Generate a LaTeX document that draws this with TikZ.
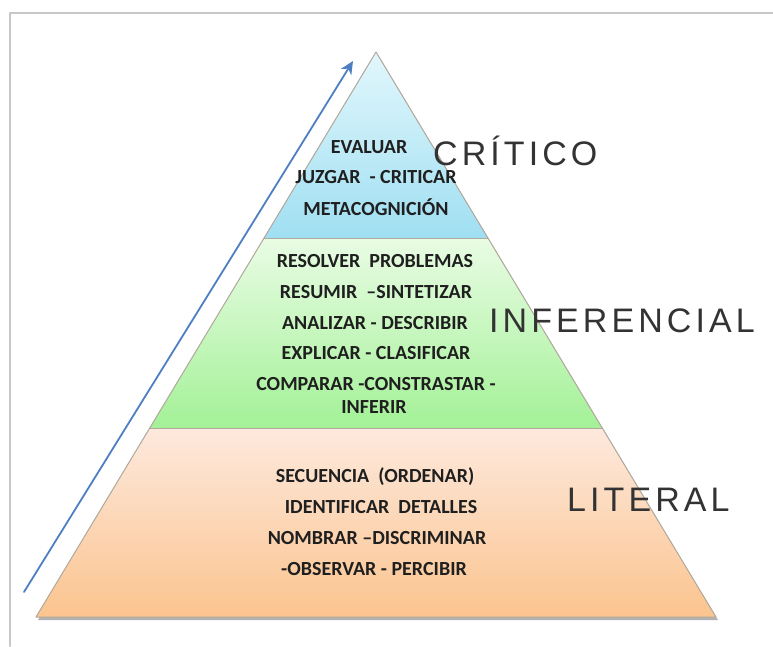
\documentclass[tikz,border=0pt]{standalone}
\usepackage{fontspec}
\setmainfont{Carlito}
\newfontfamily\handfont[LetterSpace=12]{Liberation Sans}
\usetikzlibrary{arrows.meta, calc}

\definecolor{critTop}{HTML}{E2F7FC}
\definecolor{critBot}{HTML}{9FDFF2}
\definecolor{infTop}{HTML}{E9FCE4}
\definecolor{infBot}{HTML}{A3F197}
\definecolor{litTop}{HTML}{FDE9DD}
\definecolor{litBot}{HTML}{FBC48F}
\definecolor{edgeGray}{HTML}{B0A89C}
\definecolor{upBlue}{HTML}{4E7FC3}

\begin{document}
\begin{tikzpicture}[line cap=round,line join=round,x=1pt,y=-1pt,
  verb/.style={font=\fontsize{20}{22}\selectfont\bfseries, text=black!88, inner sep=0pt},
  tag/.style={font=\handfont\fontsize{34}{36}\selectfont, text=black!80, inner sep=0pt}]
\useasboundingbox (0,0) rectangle (773,646);
\fill[white] (0,0) rectangle (773,646);

\draw[black!22, line width=2pt] (10,646) -- (10,13) -- (773,13);

\coordinate (T) at (376,52);
\coordinate (BL) at (36,617);
\coordinate (BR) at (716,617);

\coordinate (L1) at ($(T)!0.3292!(BL)$);
\coordinate (R1) at ($(T)!0.3292!(BR)$);
\coordinate (L2) at ($(T)!0.6655!(BL)$);
\coordinate (R2) at ($(T)!0.6655!(BR)$);

\fill[black!30] ([shift={(2,3)}]T) -- ([shift={(2,3)}]BR) -- ([shift={(2,3)}]BL) -- cycle;

\path[top color=critTop, bottom color=critBot] (T) -- (R1) -- (L1) -- cycle;
\path[top color=infTop, bottom color=infBot] (L1) -- (R1) -- (R2) -- (L2) -- cycle;
\path[top color=litTop, bottom color=litBot] (L2) -- (R2) -- (BR) -- (BL) -- cycle;

\draw[edgeGray] (L1) -- (R1);
\draw[edgeGray] (L2) -- (R2);
\draw[edgeGray, line width=1pt] (T) -- (BR) -- (BL) -- cycle;

\coordinate (up0) at (24,592);
\coordinate (up1) at (353,61);
\draw[upBlue, line width=1.8pt, -{Stealth[length=13pt,width=12pt,inset=4pt]}] (up0) -- (up1);

\node[verb] (evaluar) at (369,147) {EVALUAR};
\node[verb] (juzgar) at (376,177) {JUZGAR\ \ - CRITICAR};
\node[verb] (metacog) at (376,207) {METACOGNICIÓN};

\node[verb] (resolver) at (375,261) {RESOLVER\ \ PROBLEMAS};
\node[verb] (resumir) at (376,292) {RESUMIR\ \ –SINTETIZAR};
\node[verb] (analizar) at (375,323) {ANALIZAR - DESCRIBIR};
\node[verb] (explicar) at (376,353) {EXPLICAR - CLASIFICAR};
\node[verb] (comparar) at (376,384) {COMPARAR -CONSTRASTAR -};
\node[verb] (inferir) at (374,407) {INFERIR};

\node[verb] (secuencia) at (375,477) {SECUENCIA\ \ (ORDENAR)};
\node[verb] (identificar) at (381,507) {IDENTIFICAR\ \ DETALLES};
\node[verb] (nombrar) at (377,538) {NOMBRAR –DISCRIMINAR};
\node[verb] (observar) at (374,569) {-OBSERVAR - PERCIBIR};

\node[tag, anchor=west] (critico) at (433,151) {CRÍTICO};
\node[tag, anchor=west] (inferencial) at (489,321) {INFERENCIAL};
\node[tag, anchor=west] (literal) at (567,500) {LITERAL};

\end{tikzpicture}
\end{document}
